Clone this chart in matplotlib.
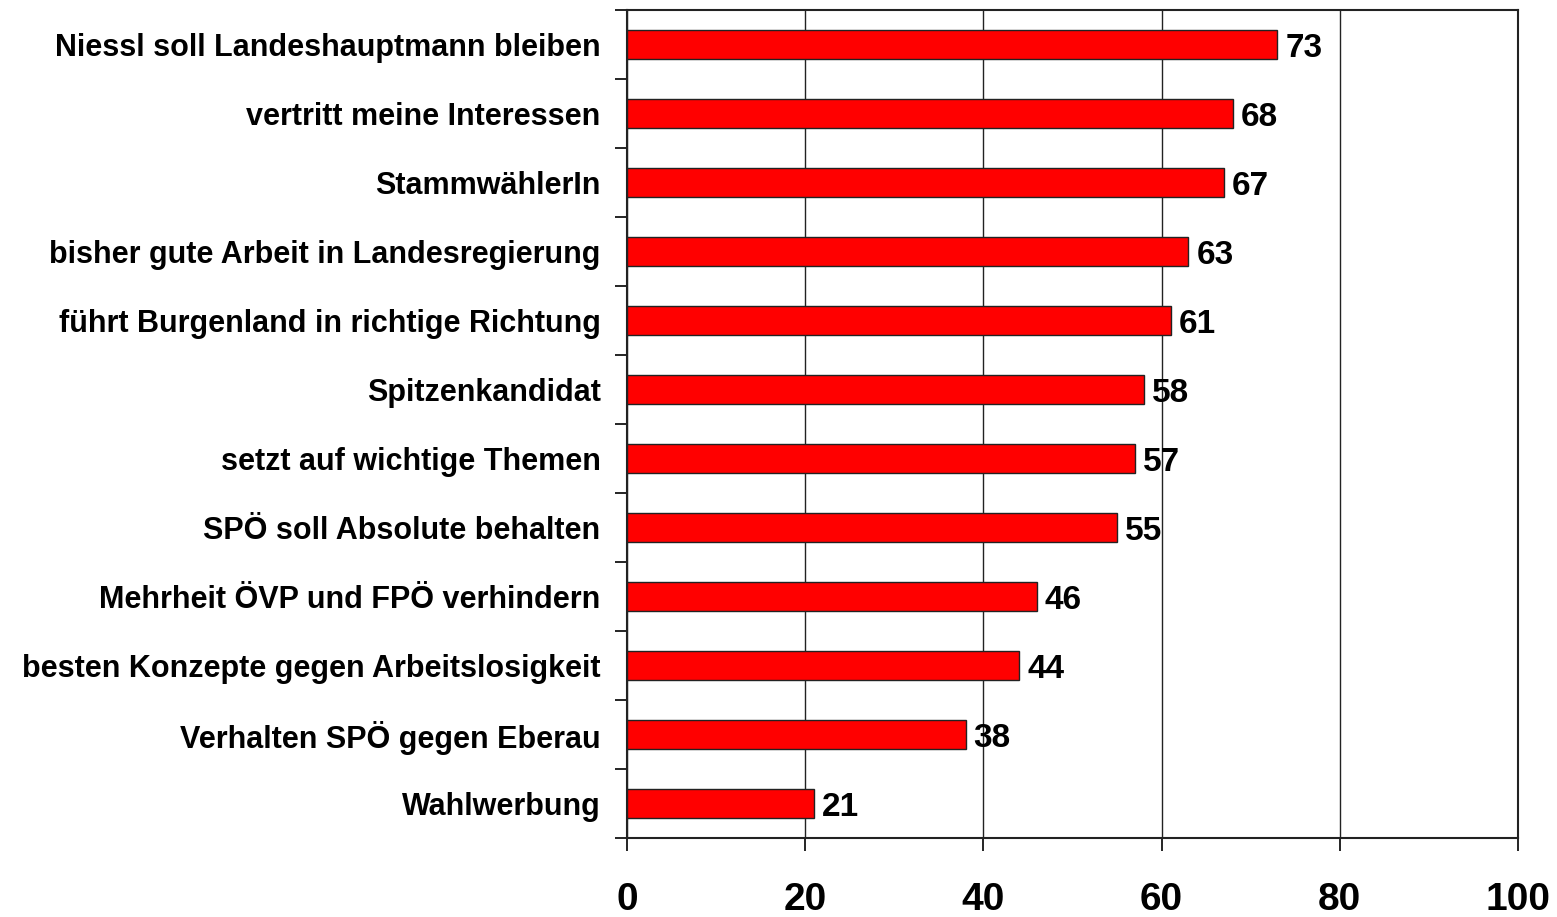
#Horizontal bar chart of reasons for voting SPÖ

import matplotlib.pyplot as plt

labels = ["Niessl soll Landeshauptmann bleiben", "vertritt meine Interessen",
          "StammwählerIn", "bisher gute Arbeit in Landesregierung",
          "führt Burgenland in richtige Richtung", "Spitzenkandidat",
          "setzt auf wichtige Themen", "SPÖ soll Absolute behalten",
          "Mehrheit ÖVP und FPÖ verhindern", "besten Konzepte gegen Arbeitslosigkeit",
          "Verhalten SPÖ gegen Eberau", "Wahlwerbung"]
values = [73, 68, 67, 63, 61, 58, 57, 55, 46, 44, 38, 21]
xticks = [0, 20, 40, 60, 80, 100]

plt.rcParams["font.family"] = ["Liberation Sans", "DejaVu Sans"]
plt.rcParams["font.weight"] = "bold"

fig = plt.figure(figsize=(15.57, 9.17), dpi=100)
ax = fig.add_axes([0.4027, 0.0861, 0.5723, 0.9029])

ypos = list(range(len(values)))[::-1]
ax.barh(ypos, values, height=0.41, color="#ff0000", edgecolor="#222222", linewidth=1, zorder=3)

#----------value labels----------
for y, v in zip(ypos, values):
    ax.text(v + 0.9, y, str(v), va="center_baseline", ha="left", fontsize=24, fontweight="bold", zorder=4)

ax.set_xlim(0, 100)
ax.set_ylim(-0.5, len(values) - 0.5)
ax.set_xticks(xticks)
ax.set_xticklabels([str(t) for t in xticks], fontsize=28, fontweight="bold")

#category labels in the middle, ticks on the boundaries
ax.set_yticks(ypos)
ax.set_yticklabels(labels, fontsize=22, fontweight="bold")
ax.tick_params(axis="y", which="major", length=0, pad=19)
ax.set_yticks([i - 0.5 for i in range(len(values) + 1)], minor=True)
ax.tick_params(axis="y", which="minor", length=9, width=1.2, direction="out")
ax.tick_params(axis="x", length=9, width=1.2, direction="out", pad=23)

ax.grid(True, axis="x", color="#222222", linewidth=1, zorder=1)
for s in ax.spines.values():
    s.set_color("#222222")
    s.set_linewidth(1.5)

plt.savefig("out.png", dpi=100)
